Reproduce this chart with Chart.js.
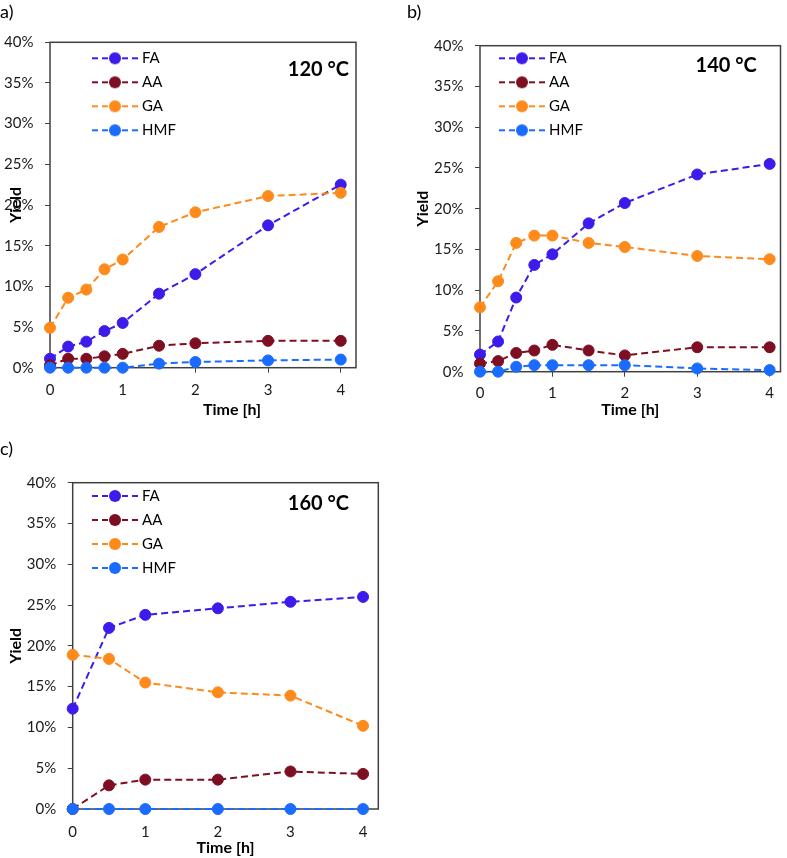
<!DOCTYPE html>
<html>
<head>
<meta charset="utf-8">
<script src="https://cdn.jsdelivr.net/npm/chart.js@4.4.1/dist/chart.umd.min.js"></script>
<style>
html,body{margin:0;padding:0;background:#fff;}
body{width:787px;height:858px;position:relative;overflow:hidden;font-family:Lato,sans-serif;}
.panel{position:absolute;}
.panel canvas{display:block;}
.lbl{position:absolute;font:18px Lato,sans-serif;color:#000;line-height:20px;z-index:2;}
</style>
</head>
<body>
<div class="panel" style="left:0;top:0;"><canvas id="cA" width="400" height="430"></canvas></div>
<div class="panel" style="left:400px;top:0;"><canvas id="cB" width="387" height="430"></canvas></div>
<div class="panel" style="left:0;top:430px;"><canvas id="cC" width="400" height="428"></canvas></div>
<div class="lbl" id="lA" style="left:0;top:1px;"></div>
<div class="lbl" id="lB" style="left:407px;top:1px;"></div>
<div class="lbl" id="lC" style="left:0;top:438px;"></div>
<script>
// ---------- data ----------
const seriesNames = ['FA', 'AA', 'GA', 'HMF'];
const panelLetters = ['a)', 'b)', 'c)'];
const tempLabels = ['120 °C', '140 °C', '160 °C'];
const xTickValues = [0, 1, 2, 3, 4];
const xTitle = 'Time [h]';
const yTitle = 'Yield';

// 120 °C
const timeA = [0, 0.25, 0.5, 0.75, 1, 1.5, 2, 3, 4];
const faA  = [1.1, 2.6, 3.2, 4.5, 5.5, 9.1, 11.5, 17.5, 22.5];
const aaA  = [0.3, 1.1, 1.1, 1.4, 1.7, 2.7, 3.0, 3.3, 3.3];
const gaA  = [4.9, 8.6, 9.6, 12.1, 13.3, 17.3, 19.1, 21.1, 21.5];
const hmfA = [0, 0, 0, 0, 0, 0.5, 0.7, 0.9, 1.0];

// 140 °C
const timeB = [0, 0.25, 0.5, 0.75, 1, 1.5, 2, 3, 4];
const faB  = [2.1, 3.7, 9.1, 13.1, 14.4, 18.2, 20.7, 24.2, 25.5];
const aaB  = [1.0, 1.3, 2.3, 2.6, 3.3, 2.6, 2.0, 3.0, 3.0];
const gaB  = [7.9, 11.1, 15.8, 16.7, 16.7, 15.8, 15.3, 14.2, 13.8];
const hmfB = [0, 0, 0.6, 0.8, 0.8, 0.8, 0.8, 0.4, 0.2];

// 160 °C
const timeC = [0, 0.5, 1, 2, 3, 4];
const faC  = [12.3, 22.2, 23.8, 24.6, 25.4, 26.0];
const aaC  = [0, 2.9, 3.6, 3.6, 4.6, 4.3];
const gaC  = [18.9, 18.4, 15.5, 14.3, 13.9, 10.2];
const hmfC = [0, 0, 0, 0, 0, 0];

// ---------- styles ----------
const seriesColors = ['#3B1CEB', '#7E0F22', '#FF8A1C', '#1A6BFF'];
const axisColor = '#404040';
Chart.defaults.font.family = 'Lato, sans-serif';
Chart.defaults.color = '#000';

function legendIcon(color) {
  const c = document.createElement('canvas');
  c.width = 46; c.height = 14;
  const g = c.getContext('2d');
  g.strokeStyle = color; g.lineWidth = 2; g.setLineDash([6, 4]);
  g.beginPath(); g.moveTo(0, 7); g.lineTo(46, 7); g.stroke();
  g.setLineDash([]);
  g.fillStyle = color;
  g.beginPath(); g.arc(23, 7, 6, 0, Math.PI * 2); g.fill();
  return c;
}

const placeLegend = {
  id: 'placeLegend',
  afterLayout(chart, args, o) {
    const l = chart.legend, ca = chart.chartArea;
    if (l) {
      l.left = ca.left + o.dx; l.top = ca.top + o.dy;
      l.right = l.left + l.width; l.bottom = l.top + (ca.bottom - ca.top);
    }
    if (o.xTitleShift) {
      // move only the x-axis title box sideways (tick pixels are already configured)
      chart.scales.x.left += o.xTitleShift;
      chart.scales.x.right += o.xTitleShift;
    }
  }
};
const frame = {
  id: 'frame',
  beforeDatasetsDraw(chart, args, o) {
    const {left, top, right, bottom} = chart.chartArea;
    const ctx = chart.ctx;
    ctx.save();
    ctx.strokeStyle = o.color; ctx.lineWidth = o.width;
    ctx.strokeRect(left, top, right - left, bottom - top);
    ctx.restore();
  }
};
const tempLabel = {
  id: 'tempLabel',
  afterDraw(chart, args, o) {
    const ca = chart.chartArea, ctx = chart.ctx;
    ctx.save();
    ctx.font = 'bold 20px Lato, sans-serif';
    ctx.fillStyle = '#000';
    ctx.textAlign = 'right'; ctx.textBaseline = 'middle';
    ctx.fillText(o.text, ca.right - o.dr, ca.top + o.dt);
    ctx.restore();
  }
};

function makeChart(id, time, series, cfg) {
  const orders = [3, 2, 1, 0];
  const datasets = series.map((vals, i) => ({
    label: seriesNames[i],
    data: time.map((t, k) => ({x: t, y: vals[k]})),
    borderColor: seriesColors[i],
    backgroundColor: seriesColors[i],
    pointBackgroundColor: seriesColors[i],
    pointBorderColor: seriesColors[i],
    borderWidth: 2,
    borderDash: [7, 4],
    pointRadius: 5.5,
    pointBorderWidth: 1,
    tension: 0,
    clip: false,
    order: orders[i]
  }));
  return new Chart(document.getElementById(id), {
    type: 'line',
    data: {datasets},
    plugins: [placeLegend, frame, tempLabel],
    options: {
      responsive: false,
      animation: false,
      layout: {padding: cfg.pad},
      plugins: {
        tooltip: {enabled: false},
        legend: {
          position: 'chartArea',
          align: 'start',
          labels: {
            usePointStyle: true,
            pointStyleWidth: 39,
            padding: 9,
            color: '#000',
            font: {size: 15, family: 'Lato, sans-serif'},
            generateLabels(chart) {
              return chart.data.datasets.map((ds, i) => ({
                text: ds.label, datasetIndex: i, hidden: false,
                pointStyle: legendIcon(ds.borderColor),
                fillStyle: ds.borderColor, strokeStyle: ds.borderColor, lineWidth: 0
              }));
            }
          }
        },
        placeLegend: {dx: cfg.ldx, dy: cfg.ldy, xTitleShift: cfg.xTitleShift || 0},
        frame: {color: axisColor, width: 1.5},
        tempLabel: {text: cfg.temp, dr: cfg.tdr, dt: cfg.tdt}
      },
      scales: {
        x: {
          type: 'linear', min: 0, max: cfg.xMax,
          afterBuildTicks: (s) => { s.ticks = xTickValues.map(v => ({value: v})); },
          afterFit: (s) => { s.height = cfg.xH; },
          grid: {display: true, drawOnChartArea: false, drawTicks: true, tickLength: 5, color: axisColor},
          border: {display: false},
          ticks: {padding: cfg.xTickPad, color: '#1a1a1a', font: {size: 15}, callback: v => String(v)},
          title: {display: true, text: xTitle, color: '#000', font: {size: 16, weight: 'bold'}, padding: {top: 0, bottom: 0}}
        },
        y: {
          min: 0, max: 40,
          afterFit: (s) => { s.width = cfg.yW; },
          grid: {display: true, drawOnChartArea: false, drawTicks: true, tickLength: 5, color: axisColor},
          border: {display: false},
          ticks: {stepSize: 5, padding: 11.5, color: '#1a1a1a', font: {size: 15}, callback: v => v + '%'},
          title: {display: true, text: yTitle, color: '#000', font: {size: 16, weight: 'bold'}, padding: {top: cfg.yTitlePad, bottom: 0}}
        }
      }
    }
  });
}

document.getElementById('lA').textContent = panelLetters[0];
document.getElementById('lB').textContent = panelLetters[1];
document.getElementById('lC').textContent = panelLetters[2];

makeChart('cA', timeA, [faA, aaA, gaA, hmfA], {
  pad: {left: 0, top: 42.3, right: 44, bottom: 10.4}, yW: 50, xH: 51.9, yTitlePad: 6.4, xTickPad: 8.3,
  xMax: 4.21, ldx: 36.5, ldy: -0.5, temp: tempLabels[0], tdr: 7, tdt: 27.7, xTitleShift: 29
});
makeChart('cB', timeB, [faB, aaB, gaB, hmfB], {
  pad: {left: 0, top: 45.7, right: 6.3, bottom: 10.4}, yW: 80, xH: 47.9, yTitlePad: 13.4, xTickPad: 7.3,
  xMax: 4.15, ldx: 13.5, ldy: -3.9, temp: tempLabels[1], tdr: 23.7, tdt: 20.3
});
makeChart('cC', timeC, [faC, aaC, gaC, hmfC], {
  pad: {left: 0, top: 52.7, right: 21.7, bottom: 0.1}, yW: 72.7, xH: 48.9, yTitlePad: 6.4, xTickPad: 8.7,
  xMax: 4.21, ldx: 13.8, ldy: -3.2, temp: tempLabels[2], tdr: 29.3, tdt: 21.3
});
</script>
</body>
</html>
